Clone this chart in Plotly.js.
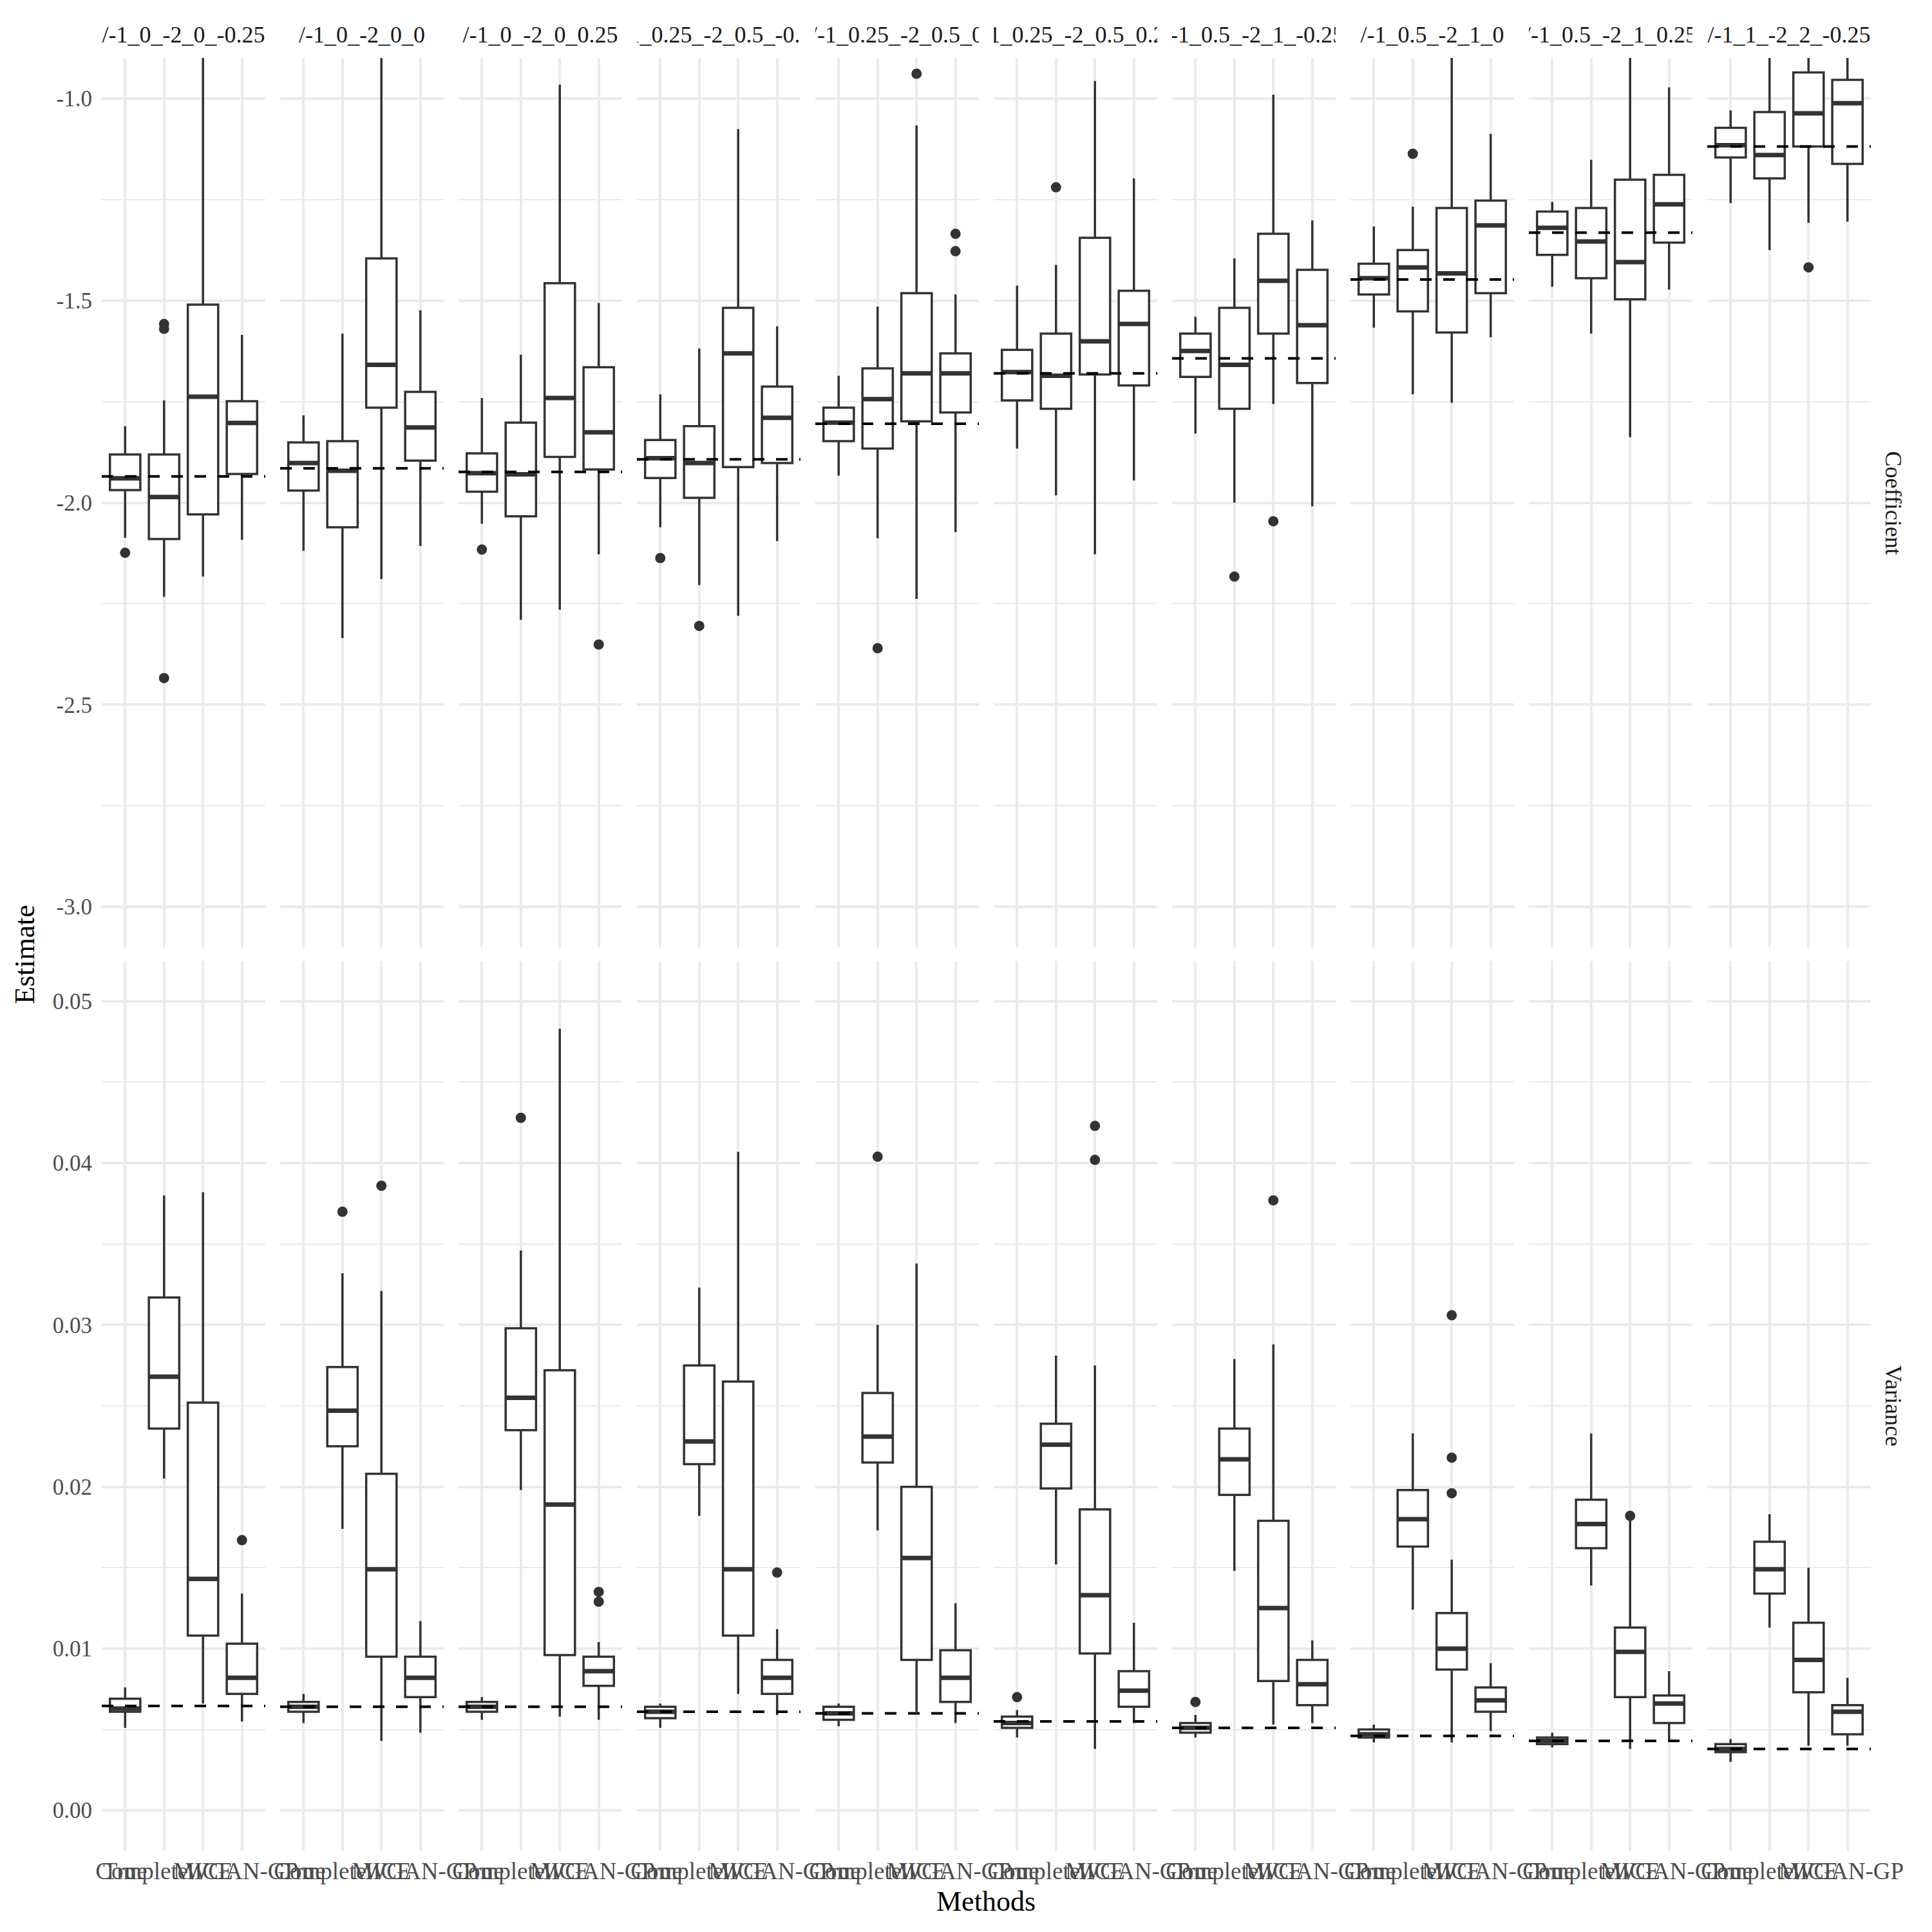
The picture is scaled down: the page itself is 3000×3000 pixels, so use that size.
<!DOCTYPE html>
<html><head><meta charset="utf-8">
<script src="https://cdn.plot.ly/plotly-3.0.1.min.js"></script>
<style>html,body{margin:0;padding:0;background:#fff}</style>
</head><body>
<div id="chart" style="width:3000px;height:3000px"></div>
<script>
// ---------- data ----------
const facets = ["/-1_0_-2_0_-0.25","/-1_0_-2_0_0","/-1_0_-2_0_0.25","/-1_0.25_-2_0.5_-0.25","/-1_0.25_-2_0.5_0",
                "/-1_0.25_-2_0.5_0.25","/-1_0.5_-2_1_-0.25","/-1_0.5_-2_1_0","/-1_0.5_-2_1_0.25","/-1_1_-2_2_-0.25"];
const methods = ["True","Complete","MICE","WGAN-GP"];
const rowLabels = ["Coefficient","Variance"];

const coefTicks = [-3.0,-2.5,-2.0,-1.5,-1.0];
const coefTickText = ["-3.0","-2.5","-2.0","-1.5","-1.0"];
const varTicks = [0,0.01,0.02,0.03,0.04,0.05];
const varTickText = ["0.00","0.01","0.02","0.03","0.04","0.05"];

// true value (dashed line) per facet
const coefTrue = [-1.935,-1.915,-1.924,-1.893,-1.805,-1.680,-1.643,-1.448,-1.332,-1.119];
const varTrue  = [0.00645,0.0064,0.0064,0.0061,0.0060,0.0055,0.0051,0.0046,0.0043,0.0038];

// Coefficient box statistics: per facet, [True, Complete, MICE, WGAN-GP]
const coefLo = [
 [-2.087,-2.233,-2.183,-2.092],[-2.119,-2.335,-2.189,-2.107],[-2.052,-2.290,-2.265,-2.128],
 [-2.061,-2.204,-2.280,-2.095],[-1.933,-2.088,-2.238,-2.073],[-1.866,-1.982,-2.128,-1.945],
 [-1.829,-2.000,-1.756,-2.009],[-1.567,-1.732,-1.753,-1.591],[-1.466,-1.582,-1.838,-1.473],
 [-1.259,-1.375,-1.308,-1.305]];
const coefQ1 = [
 [-1.969,-2.090,-2.029,-1.929],[-1.970,-2.061,-1.765,-1.896],[-1.973,-2.034,-1.887,-1.918],
 [-1.939,-1.988,-1.912,-1.902],[-1.848,-1.866,-1.799,-1.777],[-1.747,-1.768,-1.683,-1.710],
 [-1.689,-1.768,-1.582,-1.704],[-1.485,-1.527,-1.579,-1.482],[-1.387,-1.445,-1.497,-1.357],
 [-1.146,-1.198,-1.119,-1.162]];
const coefMed = [
 [-1.940,-1.986,-1.738,-1.803],[-1.902,-1.921,-1.659,-1.814],[-1.927,-1.930,-1.741,-1.826],
 [-1.890,-1.902,-1.631,-1.790],[-1.802,-1.744,-1.680,-1.680],[-1.677,-1.686,-1.601,-1.558],
 [-1.625,-1.659,-1.451,-1.561],[-1.445,-1.418,-1.433,-1.314],[-1.320,-1.354,-1.405,-1.262],
 [-1.116,-1.140,-1.037,-1.012]];
const coefQ3 = [
 [-1.881,-1.881,-1.510,-1.749],[-1.851,-1.848,-1.396,-1.726],[-1.878,-1.802,-1.457,-1.665],
 [-1.845,-1.811,-1.518,-1.713],[-1.765,-1.668,-1.482,-1.631],[-1.622,-1.582,-1.345,-1.476],
 [-1.582,-1.518,-1.335,-1.424],[-1.409,-1.375,-1.271,-1.253],[-1.280,-1.271,-1.201,-1.189],
 [-1.073,-1.034,-0.936,-0.954]];
const coefHi = [
 [-1.811,-1.747,-0.850,-1.585],[-1.784,-1.582,-0.850,-1.524],[-1.741,-1.634,-0.966,-1.506],
 [-1.732,-1.619,-1.076,-1.564],[-1.686,-1.515,-1.067,-1.485],[-1.463,-1.412,-0.957,-1.198],
 [-1.540,-1.396,-0.991,-1.302],[-1.317,-1.268,-0.850,-1.088],[-1.256,-1.152,-0.850,-0.973],
 [-1.030,-0.900,-0.850,-0.880]];
const coefOut = [
 [[-2.124],[-1.558,-1.570,-2.434],[],[]],
 [[],[],[],[]],
 [[-2.116],[],[],[-2.351]],
 [[-2.137],[-2.305],[],[]],
 [[],[-2.360],[-0.939],[-1.335,-1.378]],
 [[],[-1.220],[],[]],
 [[],[-2.183],[-2.046],[]],
 [[],[-1.137],[],[]],
 [[],[],[],[]],
 [[],[],[-1.418],[]]];

// Variance box statistics
const varLo = [
 [0.0051,0.0205,0.0066,0.0055],[0.0054,0.0174,0.0043,0.0048],[0.0056,0.0198,0.0058,0.0056],
 [0.0051,0.0182,0.0072,0.0059],[0.0052,0.0173,0.0061,0.0054],[0.0045,0.0152,0.0038,0.0054],
 [0.0045,0.0148,0.0053,0.0054],[0.0042,0.0124,0.0042,0.0049],[0.0039,0.0139,0.0038,0.0043],
 [0.0030,0.0113,0.0040,0.0040]];
const varQ1 = [
 [0.0061,0.0236,0.0108,0.0072],[0.0061,0.0225,0.0095,0.0070],[0.0061,0.0235,0.0096,0.0077],
 [0.0057,0.0214,0.0108,0.0072],[0.0056,0.0215,0.0093,0.0067],[0.0051,0.0199,0.0097,0.0064],
 [0.0048,0.0195,0.0080,0.0065],[0.0045,0.0163,0.0087,0.0061],[0.0041,0.0162,0.0070,0.0054],
 [0.0036,0.0134,0.0073,0.0047]];
const varMed = [
 [0.0063,0.0268,0.0143,0.0082],[0.0064,0.0247,0.0149,0.0082],[0.0064,0.0255,0.0189,0.0086],
 [0.0061,0.0228,0.0149,0.0082],[0.0060,0.0231,0.0156,0.0082],[0.0054,0.0226,0.0133,0.0074],
 [0.0051,0.0217,0.0125,0.0078],[0.0047,0.0180,0.0100,0.0068],[0.0043,0.0177,0.0098,0.0066],
 [0.0038,0.0149,0.0093,0.0061]];
const varQ3 = [
 [0.0069,0.0317,0.0252,0.0103],[0.0067,0.0274,0.0208,0.0095],[0.0067,0.0298,0.0272,0.0095],
 [0.0064,0.0275,0.0265,0.0093],[0.0064,0.0258,0.0200,0.0099],[0.0058,0.0239,0.0186,0.0086],
 [0.0054,0.0236,0.0179,0.0093],[0.0050,0.0198,0.0122,0.0076],[0.0045,0.0192,0.0113,0.0071],
 [0.0041,0.0166,0.0116,0.0065]];
const varHi = [
 [0.0076,0.0380,0.0382,0.0134],[0.0072,0.0332,0.0321,0.0117],[0.0070,0.0346,0.0483,0.0104],
 [0.0066,0.0323,0.0407,0.0112],[0.0066,0.0300,0.0338,0.0128],[0.0062,0.0281,0.0275,0.0116],
 [0.0059,0.0279,0.0288,0.0105],[0.0053,0.0233,0.0155,0.0091],[0.0048,0.0233,0.0180,0.0086],
 [0.0044,0.0183,0.0150,0.0082]];
const varOut = [
 [[],[],[],[0.0167]],
 [[],[0.0370],[0.0386],[]],
 [[],[0.0428],[],[0.0135,0.0129]],
 [[],[],[],[0.0147]],
 [[],[0.0404],[],[]],
 [[0.0070],[],[0.0423,0.0402],[]],
 [[0.0067],[],[0.0377],[]],
 [[],[],[0.0306,0.0218,0.0196],[]],
 [[],[],[0.0182],[]],
 [[],[],[],[]]];

// ---------- layout helpers ----------
const FONT = '"Liberation Serif","Times New Roman",Times,serif';
const S = 3000;
const PANEL_L = 158, PANEL_W = 254, PANEL_STEP = 277;
// where the category labels sit along each panel's axis (the reference draws
// "Complete" pulled to the left so it overlaps "True")
const LABEL_AT = [1, 1.43, 3, 4];
const ROWS = [
  {lo:coefLo,q1:coefQ1,med:coefMed,q3:coefQ3,hi:coefHi,out:coefOut,tru:coefTrue,
   top:90,bottom:1471,range:[-3.1,-0.9],tv:coefTicks,tt:coefTickText,minor:{tick0:-3,dtick:0.25}},
  {lo:varLo,q1:varQ1,med:varMed,q3:varQ3,hi:varHi,out:varOut,tru:varTrue,
   top:1492,bottom:2874,range:[-0.0025,0.0525],tv:varTicks,tt:varTickText,minor:{tick0:0,dtick:0.005}}
];
const BOXW = 0.78;
const INK = '#333333', GRID = '#EBEBEB';

const traces = [];
const layout = {
  width:S, height:S, margin:{l:0,r:0,t:0,b:0,pad:0},
  paper_bgcolor:'#ffffff', plot_bgcolor:'#ffffff', showlegend:false,
  font:{family:FONT}, annotations:[]
};

ROWS.forEach((row, r) => {
  for (let c = 0; c < facets.length; c++) {
    const idx = r*facets.length + c + 1;
    const sfx = idx === 1 ? '' : String(idx);
    const xa = 'x'+sfx, ya = 'y'+sfx;
    const xs = methods.map((m,i)=>i+1);

    traces.push({
      type:'box', xaxis:xa, yaxis:ya, x:xs,
      q1:row.q1[c], median:row.med[c], q3:row.q3[c],
      lowerfence:row.lo[c], upperfence:row.hi[c],
      width:BOXW, whiskerwidth:0, boxpoints:false,
      fillcolor:'#ffffff', line:{color:INK,width:3.5}, hoverinfo:'skip'
    });
    // thick median bars
    const mx=[], my=[];
    row.med[c].forEach((m,i)=>{ mx.push(xs[i]-BOXW/2, xs[i]+BOXW/2, null); my.push(m,m,null); });
    traces.push({type:'scatter',mode:'lines',xaxis:xa,yaxis:ya,x:mx,y:my,
      line:{color:INK,width:7},hoverinfo:'skip'});
    // outliers
    const ox=[], oy=[];
    row.out[c].forEach((arr,i)=>arr.forEach(v=>{ox.push(xs[i]); oy.push(v);}));
    if (ox.length) traces.push({type:'scatter',mode:'markers',xaxis:xa,yaxis:ya,x:ox,y:oy,
      marker:{color:INK,size:16,line:{width:0}},hoverinfo:'skip'});
    // true value dashed line
    traces.push({type:'scatter',mode:'lines',xaxis:xa,yaxis:ya,x:[0.4,4.6],y:[row.tru[c],row.tru[c]],
      line:{color:'#000000',width:4,dash:'18px,18px'},hoverinfo:'skip'});

    const x0 = PANEL_L + PANEL_STEP*c;
    layout['xaxis'+sfx] = {
      domain:[x0/S,(x0+PANEL_W)/S], range:[0.4,4.6], anchor:ya,
      tickmode:'array', tickvals:LABEL_AT, ticktext:methods, tickangle:0,
      showticklabels: r===1, ticks:'', showgrid:false,
      minor:{tickmode:'array', tickvals:xs, showgrid:true, gridcolor:GRID, gridwidth:4, ticks:''},
      zeroline:false, showline:false, fixedrange:true, ticklabelstandoff:6,
      tickfont:{family:FONT,size:37,color:'#4D4D4D'}
    };
    layout['yaxis'+sfx] = {
      domain:[(S-row.bottom)/S,(S-row.top)/S], range:row.range, anchor:xa,
      tickmode:'array', tickvals:row.tv, ticktext:row.tt,
      showticklabels: c===0, ticks:'', showgrid:true, gridcolor:GRID, gridwidth:4,
      minor:{tickmode:'linear',tick0:row.minor.tick0,dtick:row.minor.dtick,showgrid:true,
             gridcolor:GRID,gridwidth:2,ticks:''},
      zeroline:false, showline:false, fixedrange:true, ticklabelstandoff:14,
      tickfont:{family:FONT,size:35,color:'#4D4D4D'}
    };

    if (r === 0) {
      layout.annotations.push({xref:'paper',yref:'paper',x:(x0+PANEL_W/2)/S,y:(S-54)/S,
        text:facets[c],showarrow:false,xanchor:'center',yanchor:'middle',width:PANEL_W,align:'center',
        font:{family:FONT,size:36,color:'#1A1A1A'}});
    }
  }
  layout.annotations.push({xref:'paper',yref:'paper',x:2940/S,y:(S-(row.top+row.bottom)/2)/S,
    text:rowLabels[r],showarrow:false,textangle:90,xanchor:'center',yanchor:'middle',
    font:{family:FONT,size:36,color:'#1A1A1A'}});
});

layout.annotations.push({xref:'paper',yref:'paper',x:38/S,y:(S-1482)/S,text:'Estimate',showarrow:false,
  textangle:-90,xanchor:'center',yanchor:'middle',font:{family:FONT,size:44,color:'#000000'}});
layout.annotations.push({xref:'paper',yref:'paper',x:1531/S,y:(S-2952)/S,text:'Methods',showarrow:false,
  xanchor:'center',yanchor:'middle',font:{family:FONT,size:44,color:'#000000'}});

Plotly.newPlot('chart', traces, layout, {staticPlot:true, displayModeBar:false});
</script>
</body></html>
